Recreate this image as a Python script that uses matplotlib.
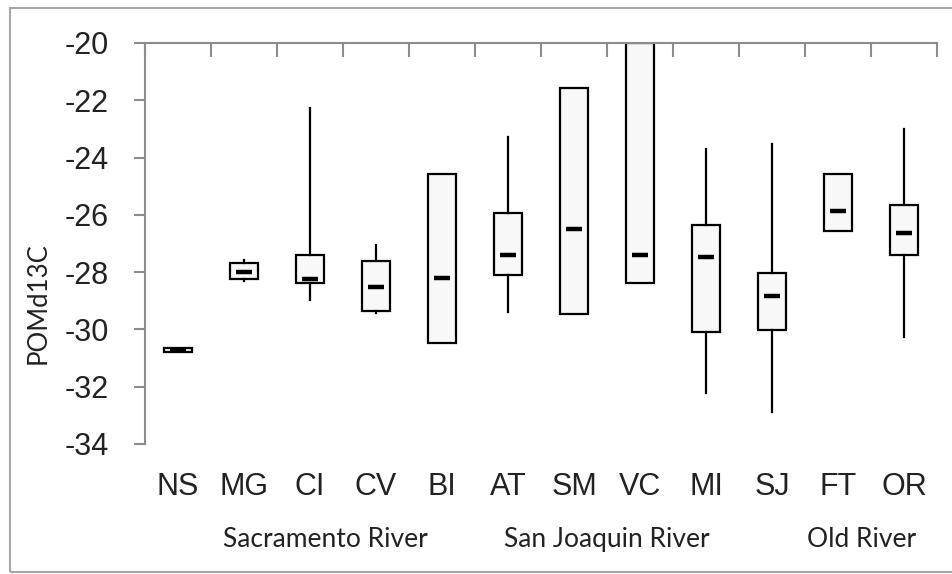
import matplotlib
matplotlib.use("Agg")
import matplotlib.pyplot as plt
from matplotlib.patches import Rectangle

sites = ["NS", "MG", "CI", "CV", "BI", "AT", "SM", "VC", "MI", "SJ", "FT", "OR"]
whislo = [-30.78, -28.30, -28.97, -29.43, -30.47, -29.39, -29.46, -28.38, -32.22, -32.88, -26.56, -30.26]
q1     = [-30.78, -28.24, -28.38, -29.36, -30.47, -28.10, -29.46, -28.38, -30.09, -30.02, -26.56, -27.40]
median = [-30.72, -28.00, -28.24, -28.52, -28.21, -27.40, -26.50, -27.40, -27.47, -28.85, -25.87, -26.64]
q3     = [-30.66, -27.68, -27.40, -27.61, -24.58, -25.94, -21.57, -20.00, -26.35, -28.03, -24.58, -25.66]
whishi = [-30.66, -27.58, -22.27, -27.05, -24.58, -23.28, -21.57, -20.00, -23.70, -23.53, -24.58, -23.00]
groups = ["Sacramento River", "San Joaquin River", "Old River"]
group_pos = [2.23, 6.5, 10.35]
yticks = [-34, -32, -30, -28, -26, -24, -22, -20]

fig = plt.figure(figsize=(9.53, 5.74), dpi=100)
fig.patch.set_facecolor("white")
ax = fig.add_axes([0.1522, 0.2265, 0.9832 - 0.1522, 0.9251 - 0.2265])

stats = []
for i in range(len(sites)):
    stats.append(dict(label=sites[i], med=median[i], q1=q1[i], q3=q3[i],
                      whislo=whislo[i], whishi=whishi[i], fliers=[]))
pos = list(range(len(sites)))
ax.bxp(stats, positions=pos, widths=0.42, showcaps=False, showfliers=False,
       patch_artist=True,
       boxprops=dict(facecolor="#f8f8f8", edgecolor="black", linewidth=1.6),
       whiskerprops=dict(color="black", linewidth=1.6),
       medianprops=dict(linewidth=0, color="none"))
ax.plot(pos, median, ls="none", marker="_", markersize=12, mew=3.2, color="black", zorder=5)

ax.set_ylim(-34, -20)
ax.set_xlim(-0.5, len(sites) - 0.5)
ax.set_yticks(yticks)
ax.set_yticklabels([str(v) for v in yticks], fontsize=22, family="Liberation Sans", color="#222222")
ax.tick_params(axis="y", direction="out", length=8, width=1.5, color="#8c8c8c", pad=18)

ax.set_xticks(pos)
ax.set_xticklabels(sites, fontsize=22, family="Liberation Sans", color="#222222")
ax.tick_params(axis="x", which="major", length=0, pad=20, bottom=True, top=False)
ax.set_xticks([p - 0.5 for p in pos] + [len(sites) - 0.5], minor=True)
ax.tick_params(axis="x", which="minor", direction="in", length=10, width=1.5,
               color="#8c8c8c", top=True, bottom=False)

for s in ["bottom", "right"]:
    ax.spines[s].set_visible(False)
for s in ["top", "left"]:
    ax.spines[s].set_color("#8c8c8c")
    ax.spines[s].set_linewidth(1.5)

for g, gp in zip(groups, group_pos):
    ax.text(gp, -0.237, g, transform=ax.get_xaxis_transform(), ha="center", va="center",
            fontsize=19, family="Lato", color="#222222")

fig.text(38 / 953, 1 - 303 / 574, "POMd13C", rotation=90, ha="center", va="center",
         fontsize=18.5, family="Lato", color="#222222")

fig.patches.append(Rectangle((10 / 953, 2 / 574), 1.2, 564 / 574, transform=fig.transFigure,
                             fill=False, edgecolor="#a6a6a6", linewidth=1.5))

fig.savefig("out.png", dpi=100)
